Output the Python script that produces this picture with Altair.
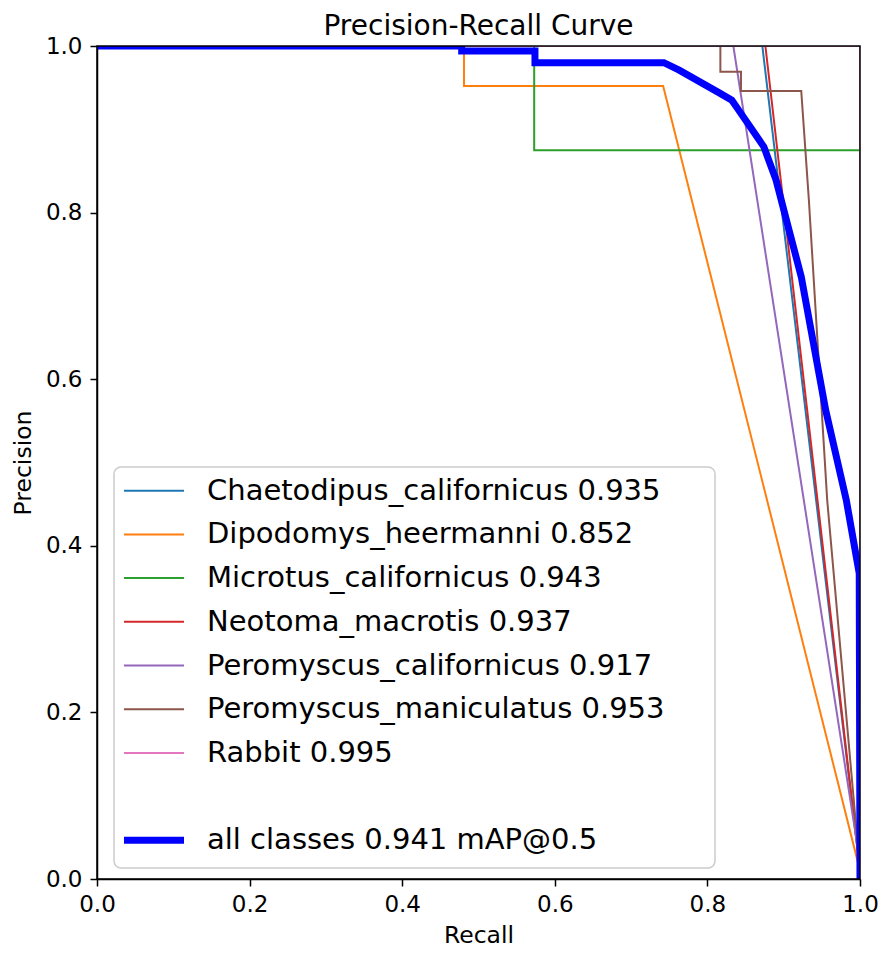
import altair as alt
import pandas as pd

FONT = "DejaVu Sans"
W, H = 763, 833

names = ["Chaetodipus_californicus", "Dipodomys_heermanni", "Microtus_californicus",
         "Neotoma_macrotis", "Peromyscus_californicus", "Peromyscus_maniculatus",
         "Rabbit", "all classes"]
scores = ["0.935", "0.852", "0.943", "0.937", "0.917", "0.953", "0.995", "0.941 mAP@0.5"]
colors = ["#1f77b4", "#ff7f0e", "#2ca02c", "#d62728", "#9467bd", "#8c564b", "#e377c2", "#0000ff"]
legend_rows = [0, 1, 2, 3, 4, 5, 6, 8]

recall_chaetodipus = [0.0, 0.872, 1.0]
precision_chaetodipus = [1.0, 1.0, 0.01]
recall_dipodomys = [0.0, 0.481, 0.481, 0.742, 1.0]
precision_dipodomys = [1.0, 1.0, 0.952, 0.952, 0.01]
recall_microtus = [0.0, 0.573, 0.573, 1.0, 1.0]
precision_microtus = [1.0, 1.0, 0.875, 0.875, 0.0]
recall_neotoma = [0.0, 0.876, 1.0]
precision_neotoma = [1.0, 1.0, 0.01]
recall_pcal = [0.0, 0.834, 1.0]
precision_pcal = [1.0, 1.0, 0.02]
recall_pman = [0.0, 0.817, 0.817, 0.844, 0.844, 0.923, 0.933, 0.957, 1.0]
precision_pman = [1.0, 1.0, 0.969, 0.969, 0.946, 0.946, 0.815, 0.455, 0.01]
recall_rabbit = [0.0, 1.0, 1.0]
precision_rabbit = [1.0, 1.0, 0.0]
recall_all = [0.0, 0.478, 0.478, 0.574, 0.574, 0.743, 0.763, 0.815, 0.832, 0.841,
              0.874, 0.890, 0.907, 0.923, 0.955, 0.982, 0.999, 1.0]
precision_all = [1.0, 1.0, 0.994, 0.994, 0.980, 0.980, 0.971, 0.944, 0.935, 0.923,
                 0.879, 0.839, 0.779, 0.723, 0.563, 0.455, 0.367, 0.0]

curves = [
    (recall_chaetodipus, precision_chaetodipus),
    (recall_dipodomys, precision_dipodomys),
    (recall_microtus, precision_microtus),
    (recall_neotoma, precision_neotoma),
    (recall_pcal, precision_pcal),
    (recall_pman, precision_pman),
    (recall_rabbit, precision_rabbit),
    (recall_all, precision_all),
]

labels = [f"{n} {s}" for n, s in zip(names, scores)]

rows = []
for k, (rec, prec) in enumerate(curves):
    for i, (r, p) in enumerate(zip(rec, prec)):
        rows.append({"series": labels[k], "recall": r, "precision": p, "i": i, "k": k})
df = pd.DataFrame(rows)
df_cls = df[df.k < 7]
df_all = df[df.k == 7]

color_scale = alt.Scale(domain=labels, range=colors)

x_enc = alt.X("recall:Q", scale=alt.Scale(domain=[0, 1], nice=False),
              axis=alt.Axis(values=[0, 0.2, 0.4, 0.6, 0.8, 1.0], format=".1f", title="Recall"))
y_enc = alt.Y("precision:Q", scale=alt.Scale(domain=[0, 1], nice=False),
              axis=alt.Axis(values=[0, 0.2, 0.4, 0.6, 0.8, 1.0], format=".1f", title="Precision"))

lines_cls = alt.Chart(df_cls).mark_line(strokeWidth=2, clip=True).encode(
    x=x_enc, y=y_enc,
    color=alt.Color("series:N", scale=color_scale, legend=None),
    detail="series:N",
    order=alt.Order("i:Q"),
)
line_all = alt.Chart(df_all).mark_line(strokeWidth=7, clip=True).encode(
    x=x_enc, y=y_enc,
    color=alt.Color("series:N", scale=color_scale, legend=None),
    order=alt.Order("i:Q"),
)

one = pd.DataFrame({"a": [0]})
# frame drawn above the curves (like matplotlib spines)
frame = alt.Chart(one).mark_rect(fillOpacity=0, stroke="black", strokeWidth=1.5).encode(
    x=alt.value(0), x2=alt.value(W), y=alt.value(0), y2=alt.value(H))

# custom legend
leg = pd.DataFrame({"series": labels, "row": legend_rows,
                    "w": [2, 2, 2, 2, 2, 2, 2, 7]})
box = alt.Chart(one).mark_rect(
    fill="white", fillOpacity=0.85, stroke="#cccccc", strokeWidth=1.5, cornerRadius=7
).encode(x=alt.value(17), x2=alt.value(618), y=alt.value(421), y2=alt.value(822))

leg_base = alt.Chart(leg).transform_calculate(ly="444.7 + 43.7*datum.row")
leg_lines = leg_base.mark_rule(strokeCap="butt").encode(
    x=alt.value(27), x2=alt.value(87),
    y=alt.Y("ly:Q", scale=None, axis=None),
    color=alt.Color("series:N", scale=color_scale, legend=None),
    strokeWidth=alt.StrokeWidth("w:Q", scale=None, legend=None),
)
leg_text = leg_base.mark_text(align="left", baseline="middle", fontSize=29, font=FONT,
                              color="black").encode(
    x=alt.value(110),
    y=alt.Y("ly:Q", scale=None, axis=None),
    text="series:N",
)

chart = alt.layer(lines_cls, line_all, frame, box, leg_lines, leg_text).properties(
    width=W, height=H,
    title=alt.TitleParams("Precision-Recall Curve", fontSize=28, font=FONT,
                          fontWeight="normal", anchor="middle", offset=-6,
                          color="black"),
    autosize=alt.AutoSizeParams(type="none"),
    padding={"left": 89, "top": 38, "right": 18, "bottom": 70},
).configure_view(
    stroke=None
).configure_axis(
    grid=False, domainColor="black", domainWidth=1.5, tickColor="black", tickWidth=1.5,
    tickSize=7, labelFontSize=23, titleFontSize=23.5, labelFont=FONT, titleFont=FONT,
    labelColor="black", titleColor="black", titleFontWeight="normal",
    labelFlush=False, labelOverlap=False,
).configure_axisX(labelPadding=7, titlePadding=7).configure_axisY(labelPadding=8, titlePadding=10)

chart.save("out.html", embed_options={"renderer": "svg", "actions": False})
